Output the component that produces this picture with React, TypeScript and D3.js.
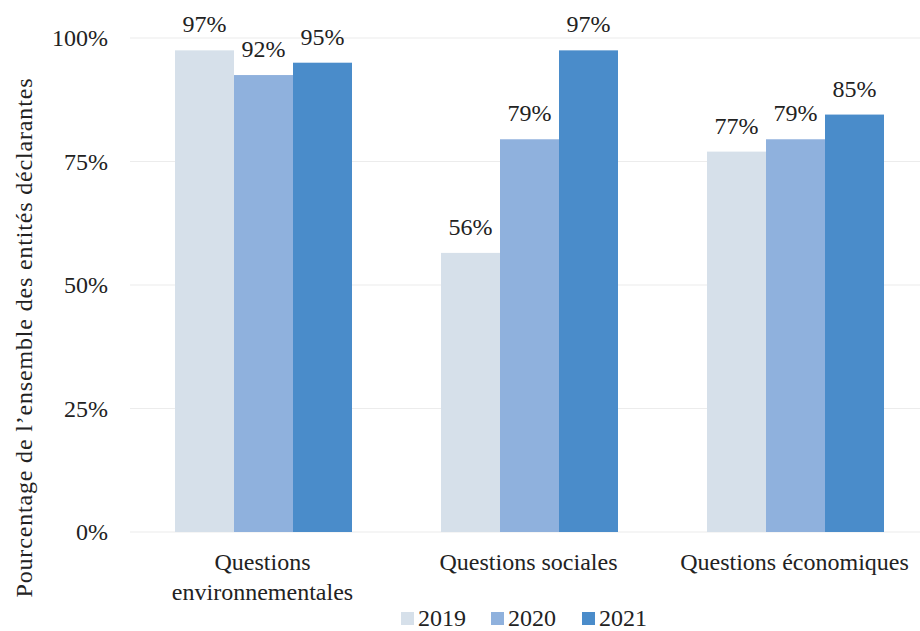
import React from "react";
import * as d3 from "d3";

const categories = ["Questions environnementales", "Questions sociales", "Questions économiques"];
const categoryLines = [["Questions", "environnementales"], ["Questions sociales"], ["Questions économiques"]];
const years = ["2019", "2020", "2021"];
const values2019 = [97.5, 56.5, 77];
const values2020 = [92.5, 79.5, 79.5];
const values2021 = [95, 97.5, 84.5];
const labels2019 = ["97%", "56%", "77%"];
const labels2020 = ["92%", "79%", "79%"];
const labels2021 = ["95%", "97%", "85%"];
const yTicks = [0, 25, 50, 75, 100];
const colors = ["#d6e0ea", "#8fb1dd", "#4a8cca"];

const W = 920;
const H = 631;
const FONT = "'Liberation Serif', 'Times New Roman', Times, Tinos, 'Nimbus Roman', 'Noto Serif', 'FreeSerif', 'DejaVu Serif', serif";

export default function App() {
  const y = d3.scaleLinear().domain([0, 100]).range([532, 38]);
  const x0 = d3.scaleBand<string>().domain(categories).range([130.5, 928.5]).padding(0);
  const groupW = 177;
  const x1 = d3.scaleBand<string>().domain(years).range([0, groupW]).padding(0);
  const offset = (x0.bandwidth() - groupW) / 2;
  const series = [values2019, values2020, values2021];
  const labels = [labels2019, labels2020, labels2021];
  const ts = { fontFamily: FONT, fontSize: 24 } as React.CSSProperties;

  return (
    <svg width={W} height={H} style={{ position: "absolute", left: 0, top: 0, background: "#fff", fontFamily: FONT }}>
      <rect x={0} y={0} width={W} height={H} fill="#fff" />
      {yTicks.map((t) => (
        <g key={t}>
          <line x1={130} x2={920} y1={y(t)} y2={y(t)} stroke="#ececec" strokeWidth={1.2} />
          <text x={108} y={y(t)} dy="0.35em" textAnchor="end" style={ts} fill="#222">
            {t}%
          </text>
        </g>
      ))}
      {categories.map((c, ci) => (
        <g key={c}>
          {years.map((yr, si) => {
            const bx = (x0(c) as number) + offset + (x1(yr) as number);
            const v = series[si][ci];
            return (
              <g key={yr}>
                <rect x={bx} y={y(v)} width={x1.bandwidth()} height={y(0) - y(v)} fill={colors[si]} />
                <text x={bx + x1.bandwidth() / 2} y={y(v) - 18} textAnchor="middle" style={ts} fill="#222">
                  {labels[si][ci]}
                </text>
              </g>
            );
          })}
          {categoryLines[ci].map((ln, li) => (
            <text key={li} x={(x0(c) as number) + x0.bandwidth() / 2 - 1} y={570 + li * 30} textAnchor="middle" style={ts} fill="#222">
              {ln}
            </text>
          ))}
        </g>
      ))}
      <text
        transform="translate(32,338) rotate(-90)"
        textAnchor="middle"
        style={ts}
        fill="#222"
        textLength={519}
        lengthAdjust="spacing"
      >
        Pourcentage de l’ensemble des entités déclarantes
      </text>
      {years.map((yr, i) => {
        const lx = [401, 491, 582][i];
        return (
          <g key={yr}>
            <rect x={lx} y={612} width={13} height={13} fill={colors[i]} />
            <text x={lx + 17} y={626} style={ts} fill="#222">
              {yr}
            </text>
          </g>
        );
      })}
    </svg>
  );
}
